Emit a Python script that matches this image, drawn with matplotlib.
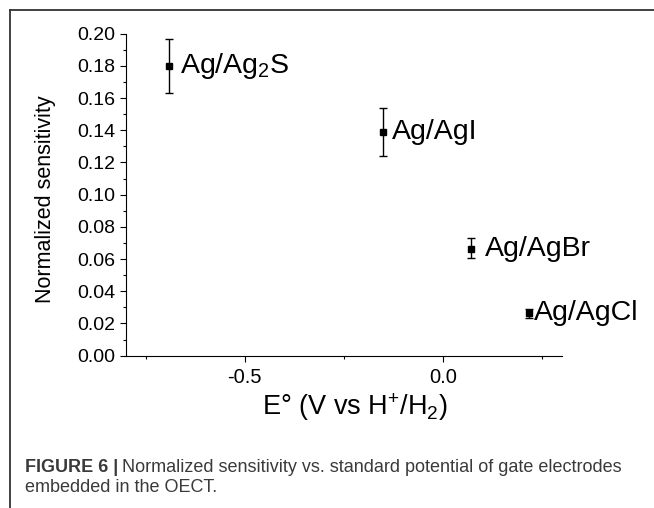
import matplotlib
matplotlib.use("Agg")
import matplotlib.pyplot as plt
from matplotlib.ticker import MultipleLocator
from matplotlib.lines import Line2D

plt.rcParams['font.family'] = ['Liberation Sans', 'DejaVu Sans']
plt.rcParams['mathtext.default'] = 'regular'

# data
electrodes = ["Ag/Ag$_2$S", "Ag/AgI", "Ag/AgBr", "Ag/AgCl"]
potential = [-0.692, -0.152, 0.070, 0.217]
sensitivity = [0.180, 0.139, 0.0665, 0.0263]
err_low = [0.017, 0.015, 0.006, 0.003]
err_high = [0.017, 0.015, 0.0065, 0.003]

# label offsets in points
label_dx = [8, 7, 10, 4]

fig = plt.figure(figsize=(6.54, 5.08), dpi=100)
ax = fig.add_axes([0.1927, 0.2998, 0.6662, 0.6339])

ax.errorbar(potential, sensitivity, yerr=[err_low, err_high], fmt='s',
            color='black', ms=4.5, elinewidth=1, capsize=3, capthick=1)
for name, x, y, dx in zip(electrodes, potential, sensitivity, label_dx):
    ax.annotate(name, (x, y), xytext=(dx, 0), textcoords='offset points',
                fontsize=20.5, va='center', ha='left')

ax.set_xlim(-0.8, 0.3)
ax.set_ylim(0, 0.2)
ax.xaxis.set_major_locator(MultipleLocator(0.5))
ax.xaxis.set_minor_locator(MultipleLocator(0.25))
ax.yaxis.set_major_locator(MultipleLocator(0.02))
ax.yaxis.set_minor_locator(MultipleLocator(0.01))
ax.xaxis.set_major_formatter(plt.FuncFormatter(lambda v, p: "%.1f" % v))
ax.yaxis.set_major_formatter(plt.FuncFormatter(lambda v, p: "%.2f" % v))
ax.tick_params(axis='x', which='major', labelsize=14.5, length=4.5, width=0.8, pad=4.5)
ax.tick_params(axis='y', which='major', labelsize=14, length=4.5, width=0.8, pad=3)
ax.tick_params(which='minor', length=2.5, width=0.8)
for s in ['top', 'right']:
    ax.spines[s].set_visible(False)
for s in ['left', 'bottom']:
    ax.spines[s].set_linewidth(0.8)

ax.set_ylabel("Normalized sensitivity", fontsize=15.5)
ax.set_xlabel("E\u00b0 (V vs H$^{+}$/H$_{2}$)", fontsize=19.5)
ax.xaxis.set_label_coords(0.524, -0.111)
ax.yaxis.set_label_coords(-0.16, 0.485)

# frame around the figure panel
fig.add_artist(Line2D([10 / 654, 1], [1 - 10 / 508, 1 - 10 / 508],
                      transform=fig.transFigure, color='#333333', lw=1.3))
fig.add_artist(Line2D([10 / 654, 10 / 654], [0, 1 - 10 / 508],
                      transform=fig.transFigure, color='#333333', lw=1.3))

# caption
cap_color = '#3a3a3a'
t1 = fig.text(25 / 654, 1 - 472 / 508, "FIGURE 6 |", fontsize=13,
              fontweight='bold', color=cap_color, va='baseline')
fig.canvas.draw()
bb = t1.get_window_extent()
fig.text((bb.x1 + 4) / 654, 1 - 472 / 508,
         "Normalized sensitivity vs. standard potential of gate electrodes",
         fontsize=13, color=cap_color, va='baseline')
fig.text(25 / 654, 1 - 492 / 508, "embedded in the OECT.", fontsize=13,
         color=cap_color, va='baseline')

fig.savefig("out.png", dpi=100)
